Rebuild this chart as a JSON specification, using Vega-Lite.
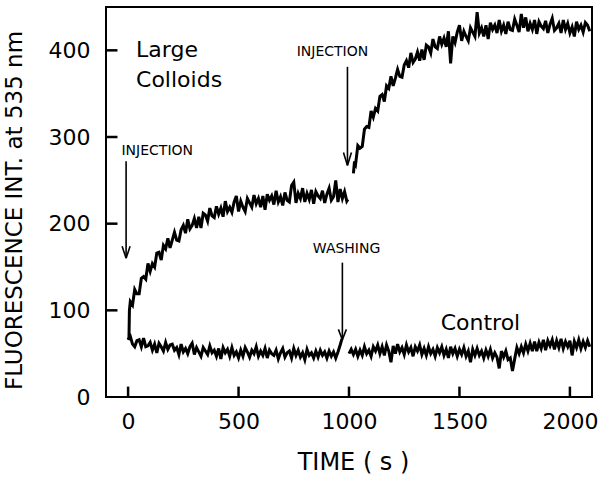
{
  "$schema": "https://vega.github.io/schema/vega-lite/v6.json",
  "autosize": {"type": "none"},
  "padding": {"left": 106, "top": 7, "right": 9, "bottom": 80},
  "width": 486,
  "height": 390,
  "background": "white",
  "config": {
    "view": {"stroke": "black", "strokeWidth": 2},
    "font": "DejaVu Sans",
    "axis": {"grid": false, "domain": false, "labelColor": "black", "titleColor": "black", "tickColor": "black", "labelFont": "DejaVu Sans", "titleFont": "DejaVu Sans", "titleFontWeight": "normal"}
  },
  "datasets": {
    "traces": [
      {"s":"A","t":0,"v":66},{"s":"A","t":4,"v":68},{"s":"A","t":6,"v":100},{"s":"A","t":10,"v":110},{"s":"A","t":20,"v":106},{"s":"A","t":30,"v":124},{"s":"A","t":40,"v":119},{"s":"A","t":50,"v":119},{"s":"A","t":60,"v":137},{"s":"A","t":70,"v":139},{"s":"A","t":80,"v":136},{"s":"A","t":90,"v":154},{"s":"A","t":100,"v":145},{"s":"A","t":110,"v":154},{"s":"A","t":120,"v":150},{"s":"A","t":130,"v":166},{"s":"A","t":140,"v":167},{"s":"A","t":150,"v":158},{"s":"A","t":160,"v":175},{"s":"A","t":170,"v":171},{"s":"A","t":180,"v":183},{"s":"A","t":190,"v":172},{"s":"A","t":200,"v":181},{"s":"A","t":210,"v":190},{"s":"A","t":220,"v":181},{"s":"A","t":230,"v":180},{"s":"A","t":240,"v":193},{"s":"A","t":250,"v":198},{"s":"A","t":260,"v":189},{"s":"A","t":270,"v":205},{"s":"A","t":280,"v":194},{"s":"A","t":290,"v":198},{"s":"A","t":300,"v":206},{"s":"A","t":310,"v":195},{"s":"A","t":320,"v":208},{"s":"A","t":330,"v":195},{"s":"A","t":340,"v":212},{"s":"A","t":350,"v":210},{"s":"A","t":360,"v":203},{"s":"A","t":370,"v":218},{"s":"A","t":380,"v":209},{"s":"A","t":390,"v":207},{"s":"A","t":400,"v":220},{"s":"A","t":410,"v":211},{"s":"A","t":420,"v":218},{"s":"A","t":430,"v":208},{"s":"A","t":440,"v":226},{"s":"A","t":450,"v":214},{"s":"A","t":460,"v":219},{"s":"A","t":470,"v":213},{"s":"A","t":480,"v":225},{"s":"A","t":490,"v":232},{"s":"A","t":500,"v":214},{"s":"A","t":510,"v":226},{"s":"A","t":520,"v":219},{"s":"A","t":530,"v":214},{"s":"A","t":540,"v":229},{"s":"A","t":550,"v":224},{"s":"A","t":560,"v":219},{"s":"A","t":570,"v":233},{"s":"A","t":580,"v":223},{"s":"A","t":590,"v":229},{"s":"A","t":600,"v":219},{"s":"A","t":610,"v":232},{"s":"A","t":620,"v":216},{"s":"A","t":630,"v":234},{"s":"A","t":640,"v":227},{"s":"A","t":650,"v":232},{"s":"A","t":660,"v":222},{"s":"A","t":670,"v":238},{"s":"A","t":680,"v":225},{"s":"A","t":690,"v":231},{"s":"A","t":700,"v":221},{"s":"A","t":710,"v":236},{"s":"A","t":720,"v":227},{"s":"A","t":730,"v":225},{"s":"A","t":740,"v":244},{"s":"A","t":750,"v":248},{"s":"A","t":760,"v":224},{"s":"A","t":770,"v":235},{"s":"A","t":780,"v":229},{"s":"A","t":790,"v":241},{"s":"A","t":800,"v":225},{"s":"A","t":810,"v":235},{"s":"A","t":820,"v":228},{"s":"A","t":830,"v":239},{"s":"A","t":840,"v":223},{"s":"A","t":850,"v":237},{"s":"A","t":860,"v":232},{"s":"A","t":870,"v":229},{"s":"A","t":880,"v":238},{"s":"A","t":890,"v":224},{"s":"A","t":900,"v":234},{"s":"A","t":910,"v":241},{"s":"A","t":920,"v":227},{"s":"A","t":930,"v":231},{"s":"A","t":940,"v":250},{"s":"A","t":950,"v":225},{"s":"A","t":960,"v":240},{"s":"A","t":970,"v":229},{"s":"A","t":980,"v":237},{"s":"A","t":990,"v":226},{"s":"A","t":995,"v":228},
      {"s":"B","t":1020,"v":258},{"s":"B","t":1025,"v":272},{"s":"B","t":1030,"v":269},{"s":"B","t":1040,"v":290},{"s":"B","t":1050,"v":287},{"s":"B","t":1060,"v":289},{"s":"B","t":1070,"v":309},{"s":"B","t":1080,"v":312},{"s":"B","t":1090,"v":311},{"s":"B","t":1100,"v":330},{"s":"B","t":1110,"v":323},{"s":"B","t":1120,"v":333},{"s":"B","t":1130,"v":330},{"s":"B","t":1140,"v":347},{"s":"B","t":1150,"v":349},{"s":"B","t":1160,"v":341},{"s":"B","t":1170,"v":359},{"s":"B","t":1180,"v":356},{"s":"B","t":1190,"v":370},{"s":"B","t":1200,"v":359},{"s":"B","t":1210,"v":368},{"s":"B","t":1220,"v":378},{"s":"B","t":1230,"v":370},{"s":"B","t":1240,"v":369},{"s":"B","t":1250,"v":383},{"s":"B","t":1260,"v":388},{"s":"B","t":1270,"v":380},{"s":"B","t":1280,"v":397},{"s":"B","t":1290,"v":386},{"s":"B","t":1300,"v":390},{"s":"B","t":1310,"v":398},{"s":"B","t":1320,"v":388},{"s":"B","t":1330,"v":401},{"s":"B","t":1340,"v":389},{"s":"B","t":1350,"v":406},{"s":"B","t":1360,"v":404},{"s":"B","t":1370,"v":397},{"s":"B","t":1380,"v":413},{"s":"B","t":1390,"v":404},{"s":"B","t":1400,"v":402},{"s":"B","t":1410,"v":416},{"s":"B","t":1420,"v":407},{"s":"B","t":1430,"v":414},{"s":"B","t":1440,"v":404},{"s":"B","t":1450,"v":422},{"s":"B","t":1460,"v":385},{"s":"B","t":1470,"v":416},{"s":"B","t":1480,"v":409},{"s":"B","t":1490,"v":421},{"s":"B","t":1500,"v":429},{"s":"B","t":1510,"v":411},{"s":"B","t":1520,"v":422},{"s":"B","t":1530,"v":416},{"s":"B","t":1540,"v":411},{"s":"B","t":1550,"v":426},{"s":"B","t":1560,"v":421},{"s":"B","t":1570,"v":416},{"s":"B","t":1580,"v":444},{"s":"B","t":1590,"v":420},{"s":"B","t":1600,"v":426},{"s":"B","t":1610,"v":416},{"s":"B","t":1620,"v":429},{"s":"B","t":1630,"v":413},{"s":"B","t":1640,"v":432},{"s":"B","t":1650,"v":424},{"s":"B","t":1660,"v":429},{"s":"B","t":1670,"v":420},{"s":"B","t":1680,"v":435},{"s":"B","t":1690,"v":422},{"s":"B","t":1700,"v":429},{"s":"B","t":1710,"v":419},{"s":"B","t":1720,"v":433},{"s":"B","t":1730,"v":424},{"s":"B","t":1740,"v":423},{"s":"B","t":1750,"v":436},{"s":"B","t":1760,"v":429},{"s":"B","t":1770,"v":421},{"s":"B","t":1780,"v":442},{"s":"B","t":1790,"v":426},{"s":"B","t":1800,"v":438},{"s":"B","t":1810,"v":422},{"s":"B","t":1820,"v":431},{"s":"B","t":1830,"v":424},{"s":"B","t":1840,"v":435},{"s":"B","t":1850,"v":419},{"s":"B","t":1860,"v":433},{"s":"B","t":1870,"v":428},{"s":"B","t":1880,"v":425},{"s":"B","t":1890,"v":434},{"s":"B","t":1900,"v":420},{"s":"B","t":1910,"v":430},{"s":"B","t":1920,"v":437},{"s":"B","t":1930,"v":423},{"s":"B","t":1940,"v":426},{"s":"B","t":1950,"v":431},{"s":"B","t":1960,"v":420},{"s":"B","t":1970,"v":435},{"s":"B","t":1980,"v":424},{"s":"B","t":1990,"v":431},{"s":"B","t":2000,"v":420},{"s":"B","t":2010,"v":427},{"s":"B","t":2020,"v":416},{"s":"B","t":2030,"v":433},{"s":"B","t":2040,"v":424},{"s":"B","t":2050,"v":429},{"s":"B","t":2060,"v":421},{"s":"B","t":2070,"v":432},{"s":"B","t":2080,"v":429},{"s":"B","t":2090,"v":422},
      {"s":"C1","t":0,"v":66},{"s":"C1","t":10,"v":70},{"s":"C1","t":20,"v":61},{"s":"C1","t":30,"v":58},{"s":"C1","t":40,"v":65},{"s":"C1","t":50,"v":66},{"s":"C1","t":60,"v":58},{"s":"C1","t":70,"v":68},{"s":"C1","t":80,"v":58},{"s":"C1","t":90,"v":59},{"s":"C1","t":100,"v":63},{"s":"C1","t":110,"v":54},{"s":"C1","t":120,"v":61},{"s":"C1","t":130,"v":51},{"s":"C1","t":140,"v":62},{"s":"C1","t":150,"v":58},{"s":"C1","t":160,"v":53},{"s":"C1","t":170,"v":63},{"s":"C1","t":180,"v":55},{"s":"C1","t":190,"v":60},{"s":"C1","t":200,"v":61},{"s":"C1","t":210,"v":54},{"s":"C1","t":220,"v":57},{"s":"C1","t":230,"v":49},{"s":"C1","t":240,"v":61},{"s":"C1","t":250,"v":52},{"s":"C1","t":260,"v":56},{"s":"C1","t":270,"v":50},{"s":"C1","t":280,"v":58},{"s":"C1","t":290,"v":62},{"s":"C1","t":300,"v":49},{"s":"C1","t":310,"v":57},{"s":"C1","t":320,"v":52},{"s":"C1","t":330,"v":47},{"s":"C1","t":340,"v":57},{"s":"C1","t":350,"v":53},{"s":"C1","t":360,"v":49},{"s":"C1","t":370,"v":59},{"s":"C1","t":380,"v":51},{"s":"C1","t":390,"v":54},{"s":"C1","t":400,"v":47},{"s":"C1","t":410,"v":56},{"s":"C1","t":420,"v":44},{"s":"C1","t":430,"v":57},{"s":"C1","t":440,"v":51},{"s":"C1","t":450,"v":55},{"s":"C1","t":460,"v":47},{"s":"C1","t":470,"v":57},{"s":"C1","t":480,"v":48},{"s":"C1","t":490,"v":52},{"s":"C1","t":500,"v":45},{"s":"C1","t":510,"v":54},{"s":"C1","t":520,"v":47},{"s":"C1","t":530,"v":57},{"s":"C1","t":540,"v":52},{"s":"C1","t":550,"v":46},{"s":"C1","t":560,"v":54},{"s":"C1","t":570,"v":50},{"s":"C1","t":580,"v":58},{"s":"C1","t":590,"v":47},{"s":"C1","t":600,"v":53},{"s":"C1","t":610,"v":48},{"s":"C1","t":620,"v":56},{"s":"C1","t":630,"v":45},{"s":"C1","t":640,"v":54},{"s":"C1","t":650,"v":50},{"s":"C1","t":660,"v":48},{"s":"C1","t":670,"v":54},{"s":"C1","t":680,"v":44},{"s":"C1","t":690,"v":51},{"s":"C1","t":700,"v":56},{"s":"C1","t":710,"v":46},{"s":"C1","t":720,"v":51},{"s":"C1","t":730,"v":53},{"s":"C1","t":740,"v":45},{"s":"C1","t":750,"v":56},{"s":"C1","t":760,"v":48},{"s":"C1","t":770,"v":54},{"s":"C1","t":780,"v":46},{"s":"C1","t":790,"v":51},{"s":"C1","t":800,"v":43},{"s":"C1","t":810,"v":55},{"s":"C1","t":820,"v":48},{"s":"C1","t":830,"v":51},{"s":"C1","t":840,"v":45},{"s":"C1","t":850,"v":53},{"s":"C1","t":860,"v":46},{"s":"C1","t":870,"v":54},{"s":"C1","t":880,"v":48},{"s":"C1","t":890,"v":52},{"s":"C1","t":900,"v":45},{"s":"C1","t":910,"v":53},{"s":"C1","t":920,"v":47},{"s":"C1","t":930,"v":52},{"s":"C1","t":940,"v":45},{"s":"C1","t":950,"v":52},{"s":"C1","t":960,"v":60},{"s":"C1","t":968,"v":67},
      {"s":"C2","t":1000,"v":50},{"s":"C2","t":1010,"v":55},{"s":"C2","t":1020,"v":49},{"s":"C2","t":1030,"v":55},{"s":"C2","t":1040,"v":47},{"s":"C2","t":1050,"v":54},{"s":"C2","t":1060,"v":48},{"s":"C2","t":1070,"v":58},{"s":"C2","t":1080,"v":50},{"s":"C2","t":1090,"v":54},{"s":"C2","t":1100,"v":47},{"s":"C2","t":1110,"v":58},{"s":"C2","t":1120,"v":53},{"s":"C2","t":1130,"v":60},{"s":"C2","t":1140,"v":50},{"s":"C2","t":1150,"v":58},{"s":"C2","t":1160,"v":48},{"s":"C2","t":1170,"v":60},{"s":"C2","t":1180,"v":53},{"s":"C2","t":1190,"v":40},{"s":"C2","t":1200,"v":59},{"s":"C2","t":1210,"v":50},{"s":"C2","t":1220,"v":61},{"s":"C2","t":1230,"v":52},{"s":"C2","t":1240,"v":57},{"s":"C2","t":1250,"v":49},{"s":"C2","t":1260,"v":60},{"s":"C2","t":1270,"v":52},{"s":"C2","t":1280,"v":57},{"s":"C2","t":1290,"v":47},{"s":"C2","t":1300,"v":58},{"s":"C2","t":1310,"v":53},{"s":"C2","t":1320,"v":60},{"s":"C2","t":1330,"v":49},{"s":"C2","t":1340,"v":56},{"s":"C2","t":1350,"v":48},{"s":"C2","t":1360,"v":58},{"s":"C2","t":1370,"v":50},{"s":"C2","t":1380,"v":55},{"s":"C2","t":1390,"v":47},{"s":"C2","t":1400,"v":57},{"s":"C2","t":1410,"v":51},{"s":"C2","t":1420,"v":58},{"s":"C2","t":1430,"v":48},{"s":"C2","t":1440,"v":55},{"s":"C2","t":1450,"v":45},{"s":"C2","t":1460,"v":58},{"s":"C2","t":1470,"v":50},{"s":"C2","t":1480,"v":56},{"s":"C2","t":1490,"v":47},{"s":"C2","t":1500,"v":55},{"s":"C2","t":1510,"v":49},{"s":"C2","t":1520,"v":57},{"s":"C2","t":1530,"v":47},{"s":"C2","t":1540,"v":53},{"s":"C2","t":1550,"v":40},{"s":"C2","t":1560,"v":55},{"s":"C2","t":1570,"v":48},{"s":"C2","t":1580,"v":56},{"s":"C2","t":1590,"v":48},{"s":"C2","t":1600,"v":53},{"s":"C2","t":1610,"v":45},{"s":"C2","t":1620,"v":54},{"s":"C2","t":1630,"v":47},{"s":"C2","t":1640,"v":55},{"s":"C2","t":1650,"v":45},{"s":"C2","t":1660,"v":51},{"s":"C2","t":1670,"v":46},{"s":"C2","t":1680,"v":33},{"s":"C2","t":1690,"v":53},{"s":"C2","t":1700,"v":46},{"s":"C2","t":1710,"v":53},{"s":"C2","t":1720,"v":43},{"s":"C2","t":1730,"v":45},{"s":"C2","t":1740,"v":30},{"s":"C2","t":1750,"v":44},{"s":"C2","t":1760,"v":57},{"s":"C2","t":1770,"v":50},{"s":"C2","t":1780,"v":58},{"s":"C2","t":1790,"v":51},{"s":"C2","t":1800,"v":61},{"s":"C2","t":1810,"v":53},{"s":"C2","t":1820,"v":62},{"s":"C2","t":1830,"v":53},{"s":"C2","t":1840,"v":64},{"s":"C2","t":1850,"v":53},{"s":"C2","t":1860,"v":63},{"s":"C2","t":1870,"v":56},{"s":"C2","t":1880,"v":66},{"s":"C2","t":1890,"v":54},{"s":"C2","t":1900,"v":65},{"s":"C2","t":1910,"v":59},{"s":"C2","t":1920,"v":66},{"s":"C2","t":1930,"v":55},{"s":"C2","t":1940,"v":65},{"s":"C2","t":1950,"v":57},{"s":"C2","t":1960,"v":67},{"s":"C2","t":1970,"v":56},{"s":"C2","t":1980,"v":64},{"s":"C2","t":1990,"v":58},{"s":"C2","t":2000,"v":65},{"s":"C2","t":2010,"v":48},{"s":"C2","t":2020,"v":64},{"s":"C2","t":2030,"v":57},{"s":"C2","t":2040,"v":66},{"s":"C2","t":2050,"v":56},{"s":"C2","t":2060,"v":64},{"s":"C2","t":2070,"v":57},{"s":"C2","t":2080,"v":65},{"s":"C2","t":2090,"v":58}
    ],
    "segs": [
      {"x":-9,"y":272,"x2":-9,"y2":161},{"x":-27,"y":174,"x2":-9,"y2":160},{"x":9,"y":174,"x2":-9,"y2":160},
      {"x":993,"y":381,"x2":993,"y2":268},{"x":975,"y":282,"x2":993,"y2":267},{"x":1011,"y":282,"x2":993,"y2":267},
      {"x":970,"y":155,"x2":970,"y2":67},{"x":952,"y":78,"x2":970,"y2":66},{"x":988,"y":78,"x2":970,"y2":66}
    ],
    "xticks": [
      {"x":0,"y":1,"y2":12},{"x":500,"y":1,"y2":12},{"x":1000,"y":1,"y2":12},{"x":1500,"y":1,"y2":12},{"x":2000,"y":1,"y2":12}
    ],
    "yticks": [
      {"x":-96,"x2":-48,"y":100},{"x":-96,"x2":-48,"y":200},{"x":-96,"x2":-48,"y":300},{"x":-96,"x2":-48,"y":400}
    ],
    "labels": [
      {"label":"Large","t":36,"v":392,"size":"big"},
      {"label":"Colloids","t":36,"v":358,"size":"big"},
      {"label":"INJECTION","t":132,"v":279,"size":"small"},
      {"label":"INJECTION","t":925,"v":393,"size":"small"},
      {"label":"WASHING","t":989,"v":166,"size":"small"},
      {"label":"Control","t":1415,"v":77,"size":"big"}
    ]
  },
  "layer": [
    {
      "data": {"name": "traces"},
      "mark": {"type": "line", "color": "black", "strokeWidth": 3, "strokeJoin": "miter"},
      "encoding": {
        "x": {"field": "t", "type": "quantitative", "scale": {"domain": [-100, 2100], "nice": false, "zero": false},
          "axis": {"values": [0, 500, 1000, 1500, 2000], "format": "d", "ticks": false, "labelFontSize": 22, "labelPadding": 14, "labelFlush": false, "title": "TIME ( s )", "titleFontSize": 24, "titleX": 247, "titleY": 65, "titleBaseline": "middle", "titleAlign": "center"}},
        "y": {"field": "v", "type": "quantitative", "scale": {"domain": [0, 450], "nice": false},
          "axis": {"values": [0, 100, 200, 300, 400], "format": "d", "ticks": false, "labelFontSize": 22, "labelPadding": 16, "labelFlush": false, "title": "FLUORESCENCE INT. at 535 nm", "titleFontSize": 23, "titleX": -92, "titleY": 203, "titleAngle": -90, "titleBaseline": "middle", "titleAlign": "center"}},
        "detail": {"field": "s", "type": "nominal"}
      }
    },
    {
      "data": {"name": "segs"},
      "mark": {"type": "rule", "color": "black", "strokeWidth": 1.6},
      "encoding": {
        "x": {"field": "x", "type": "quantitative"},
        "y": {"field": "y", "type": "quantitative"},
        "x2": {"field": "x2"},
        "y2": {"field": "y2"}
      }
    },
    {
      "data": {"name": "xticks"},
      "mark": {"type": "rule", "color": "black", "strokeWidth": 2.5},
      "encoding": {
        "x": {"field": "x", "type": "quantitative"},
        "y": {"field": "y", "type": "quantitative"},
        "y2": {"field": "y2"}
      }
    },
    {
      "data": {"name": "yticks"},
      "mark": {"type": "rule", "color": "black", "strokeWidth": 2.5},
      "encoding": {
        "x": {"field": "x", "type": "quantitative"},
        "x2": {"field": "x2"},
        "y": {"field": "y", "type": "quantitative"}
      }
    },
    {
      "data": {"name": "labels"},
      "transform": [{"filter": "datum.size == 'big'"}],
      "mark": {"type": "text", "fontSize": 22, "font": "DejaVu Sans", "color": "black", "baseline": "alphabetic", "align": "left"},
      "encoding": {
        "x": {"field": "t", "type": "quantitative"},
        "y": {"field": "v", "type": "quantitative"},
        "text": {"field": "label"}
      }
    },
    {
      "data": {"name": "labels"},
      "transform": [{"filter": "datum.size == 'small'"}],
      "mark": {"type": "text", "fontSize": 14, "font": "DejaVu Sans", "color": "black", "baseline": "alphabetic", "align": "center"},
      "encoding": {
        "x": {"field": "t", "type": "quantitative"},
        "y": {"field": "v", "type": "quantitative"},
        "text": {"field": "label"}
      }
    }
  ]
}
